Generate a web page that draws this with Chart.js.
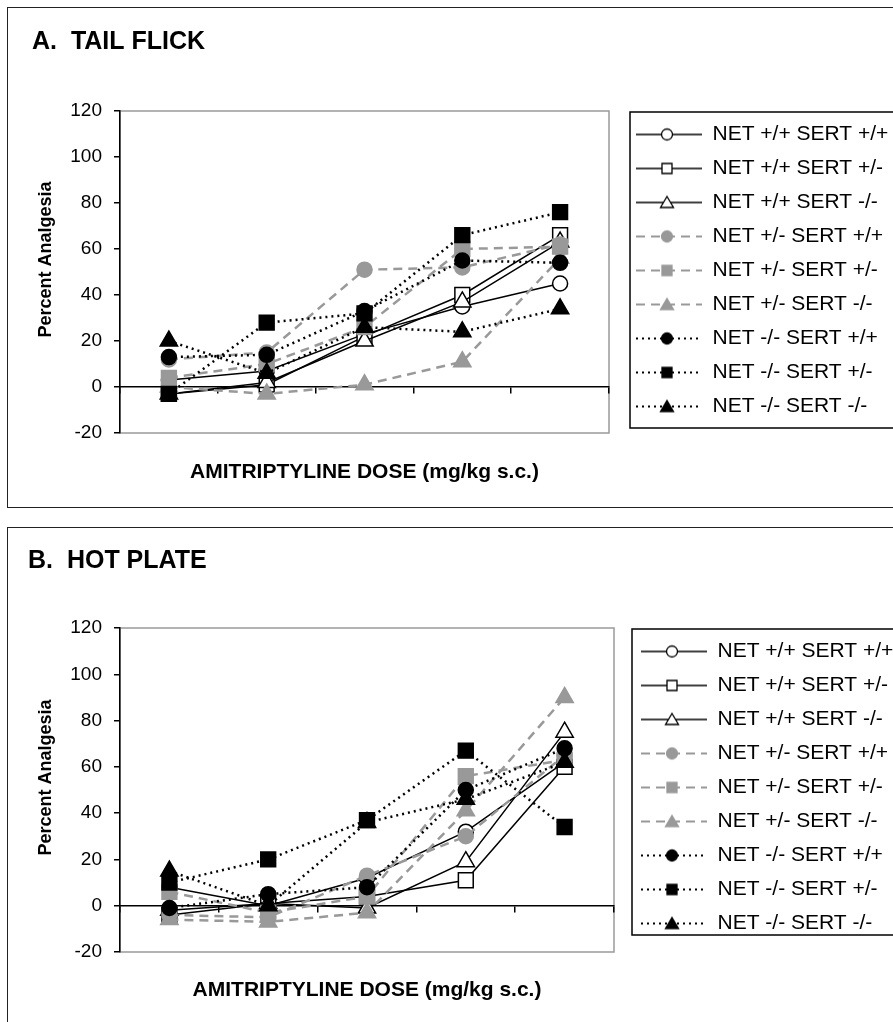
<!DOCTYPE html>
<html>
<head>
<meta charset="utf-8">
<script src="https://cdn.jsdelivr.net/npm/chart.js@4.4.0/dist/chart.umd.min.js"></script>
<style>
  html, body { margin: 0; padding: 0; background: #fff; overflow: hidden; width: 893px; height: 1022px; }
  .frame { position: absolute; left: 7px; width: 1000px; border: 1.5px solid #222; box-sizing: border-box; }
  canvas { position: absolute; left: 10px; }
</style>
</head>
<body>
<div class="frame" style="top:7px;height:501px"></div>
<div class="frame" style="top:527px;height:600px"></div>
<canvas id="tailFlick" width="960" height="495" style="top:10px"></canvas>
<canvas id="hotPlate" width="960" height="492" style="top:530px"></canvas>
<script>
// doses on the x axis and the y ticks
const doses = ['0', '5', '10', '20', '40'];
const yTicks = [-20, 0, 20, 40, 60, 80, 100, 120];

const genotypes = [
    'NET +/+ SERT +/+', 'NET +/+ SERT +/-', 'NET +/+ SERT -/-',
    'NET +/- SERT +/+', 'NET +/- SERT +/-', 'NET +/- SERT -/-',
    'NET -/- SERT +/+', 'NET -/- SERT +/-', 'NET -/- SERT -/-'
];

// A. tail flick, percent analgesia per dose
const tfWtWt = [3, 7, 23, 35, 45];
const tfWtHet = [-3, 1, 22, 40, 66];
const tfWtKo = [-3, 2, 20, 37, 63];
const tfHetWt = [12, 15, 51, 52, 62];
const tfHetHet = [4, 10, 26, 60, 61];
const tfHetKo = [0, -3, 1, 11, 56];
const tfKoWt = [13, 14, 33, 55, 54];
const tfKoHet = [-3, 28, 32, 66, 76];
const tfKoKo = [20, 6, 26, 24, 34];

// B. hot plate
const hpWtWt = [8, 0, 12, 32, 62];
const hpWtHet = [-4, 1, 4, 11, 60];
const hpWtKo = [-2, 1, -1, 19, 75];
const hpHetWt = [-4, -5, 13, 30, 65];
const hpHetHet = [6, -3, 4, 56, 63];
const hpHetKo = [-6, -7, -3, 41, 90];
const hpKoWt = [-1, 5, 8, 50, 68];
const hpKoHet = [10, 20, 37, 67, 34];
const hpKoKo = [15, 0, 36, 46, 62];

var fontFamily = "'Liberation Sans', Arial, sans-serif";
Chart.defaults.font.family = fontFamily;
Chart.defaults.color = '#000';

var markers = ['circle', 'rect', 'triangle'];
var markerRadius = [7.5, 10.5, 10];
var groupStyles = [
    { line: '#000', width: 1.5, dash: [], fill: '#fff', edge: '#000' },
    { line: '#999', width: 2.5, dash: [9, 6], fill: '#999', edge: '#999' },
    { line: '#000', width: 2.5, dash: [2, 4], fill: '#000', edge: '#000' }
];

var legendFontSize = 21;
var legendPad = 13;
var iconWidth = 80;

function drawMarker(ctx, shape, x, y, fill, edge) {
    ctx.beginPath();
    if (shape === 'circle') {
        ctx.arc(x, y, 5.5, 0, Math.PI * 2);
    } else if (shape === 'rect') {
        ctx.rect(x - 5, y - 5, 10, 10);
    } else {
        ctx.moveTo(x, y - 6);
        ctx.lineTo(x + 6.5, y + 5);
        ctx.lineTo(x - 6.5, y + 5);
        ctx.closePath();
    }
    ctx.fillStyle = fill;
    ctx.fill();
    ctx.lineWidth = 1.3;
    ctx.strokeStyle = edge;
    ctx.stroke();
}

// small line + marker pictures for the legend
var legendIcons = genotypes.map(function (g, i) {
    var s = groupStyles[Math.floor(i / 3)];
    var c = document.createElement('canvas');
    c.width = iconWidth;
    c.height = 24;
    var ctx = c.getContext('2d');
    ctx.strokeStyle = s.line;
    ctx.lineWidth = s.width === 1.5 ? 1.5 : 2;
    ctx.setLineDash(s.dash);
    ctx.beginPath();
    ctx.moveTo(14, 12);
    ctx.lineTo(iconWidth, 12);
    ctx.stroke();
    ctx.setLineDash([]);
    drawMarker(ctx, markers[i % 3], 45, 12, s.fill, s.edge);
    return c;
});

// width the legend box will take, same sum as Chart.js uses
var measureCtx = document.createElement('canvas').getContext('2d');
measureCtx.font = legendFontSize + 'px ' + fontFamily;
var maxText = 0;
genotypes.forEach(function (g) {
    maxText = Math.max(maxText, measureCtx.measureText(g).width);
});
var legendWidth = legendPad + iconWidth + legendFontSize / 2 + maxText + 10;

var plotFrame = {
    id: 'plotFrame',
    beforeDraw: function (chart) {
        var a = chart.chartArea, ctx = chart.ctx;
        ctx.save();
        ctx.strokeStyle = '#9a9a9a';
        ctx.lineWidth = 1.5;
        ctx.strokeRect(a.left, a.top, a.right - a.left, a.bottom - a.top);
        ctx.restore();
    }
};

var legendFrame = {
    id: 'legendFrame',
    afterDraw: function (chart, args, opts) {
        var ctx = chart.ctx;
        var x = chart.chartArea.right + opts.gap;
        ctx.save();
        ctx.strokeStyle = '#000';
        ctx.lineWidth = 1.5;
        ctx.strokeRect(x, chart.legend.top + 1, 400, opts.height);
        ctx.restore();
    }
};

function makePanel(id, title, values, p) {
    var datasets = values.map(function (vals, i) {
        var s = groupStyles[Math.floor(i / 3)];
        return {
            label: genotypes[i],
            data: vals,
            order: 8 - i,
            borderColor: s.line,
            borderWidth: s.width,
            borderDash: s.dash,
            pointStyle: markers[i % 3],
            pointRadius: markerRadius[i % 3],
            pointHoverRadius: markerRadius[i % 3],
            pointBackgroundColor: s.fill,
            pointBorderColor: s.edge,
            pointBorderWidth: 1.5,
            tension: 0,
            fill: false
        };
    });

    return new Chart(document.getElementById(id), {
        type: 'line',
        data: { labels: doses, datasets: datasets },
        plugins: [plotFrame, legendFrame],
        options: {
            responsive: false,
            animation: false,
            events: [],
            layout: { padding: { left: p.padLeft, right: 960 - p.chartRight - legendWidth, top: 0, bottom: 0 } },
            plugins: {
                title: {
                    display: true,
                    text: title,
                    align: 'start',
                    color: '#000',
                    font: { size: 25, weight: 'bold' },
                    padding: { top: p.titleTop, bottom: p.titleBottom }
                },
                legend: {
                    position: 'right',
                    align: 'start',
                    fullSize: false,
                    maxWidth: 600,
                    labels: {
                        usePointStyle: true,
                        pointStyleWidth: iconWidth,
                        padding: legendPad,
                        color: '#000',
                        font: { size: legendFontSize },
                        generateLabels: function (chart) {
                            return chart.data.datasets.map(function (ds, i) {
                                return {
                                    text: ds.label,
                                    pointStyle: legendIcons[i],
                                    fillStyle: 'rgba(0,0,0,0)',
                                    strokeStyle: 'rgba(0,0,0,0)',
                                    lineWidth: 0,
                                    fontColor: '#000',
                                    hidden: false,
                                    datasetIndex: i
                                };
                            });
                        }
                    }
                },
                tooltip: { enabled: false },
                legendFrame: { gap: p.legendGap, height: p.legendHeight }
            },
            scales: {
                x: {
                    type: 'category',
                    position: 'bottom',
                    offset: true,
                    grid: { display: false, drawTicks: false },
                    border: { display: false },
                    ticks: { padding: p.tickPad, color: '#000', font: { size: 19 }, maxRotation: 0, autoSkip: false },
                    title: {
                        display: true,
                        text: 'AMITRIPTYLINE DOSE (mg/kg s.c.)',
                        color: '#000',
                        font: { size: 21, weight: 'bold' },
                        padding: { top: 0, bottom: p.xTitlePad }
                    },
                    afterFit: function (scale) { scale.height = p.xHeight; }
                },
                x0: {
                    type: 'category',
                    position: { y: 0 },
                    offset: true,
                    grid: { display: true, offset: true, drawOnChartArea: false, drawTicks: true, tickLength: 6, color: '#000', lineWidth: 1.5 },
                    border: { display: true, color: '#000', width: 1.5 },
                    ticks: { display: false },
                    afterFit: function (scale) { scale.height = 0; }
                },
                y: {
                    type: 'linear',
                    position: 'left',
                    min: yTicks[0],
                    max: yTicks[yTicks.length - 1],
                    ticks: { stepSize: yTicks[1] - yTicks[0], padding: 12, color: '#000', font: { size: 19 } },
                    grid: { drawOnChartArea: false, drawTicks: true, tickLength: 6, color: '#000', lineWidth: 1.5 },
                    border: { display: true, color: '#000', width: 1.5 },
                    title: {
                        display: true,
                        // leading spaces lift the centred title a little, as in the original
                        text: '     Percent Analgesia',
                        color: '#000',
                        font: { size: 18, weight: 'bold' },
                        padding: { top: p.yTitlePad, bottom: 0 }
                    },
                    afterFit: function (scale) { scale.width = p.yWidth; }
                }
            }
        }
    });
}

makePanel('tailFlick', 'A.  TAIL FLICK',
    [tfWtWt, tfWtHet, tfWtKo, tfHetWt, tfHetHet, tfHetKo, tfKoWt, tfKoHet, tfKoKo],
    { padLeft: 22, yWidth: 88, yTitlePad: 3.6, chartRight: 599, titleTop: 17, titleBottom: 54,
      xHeight: 72, xTitlePad: 20.4, tickPad: -26.4, legendGap: 21, legendHeight: 316 });

makePanel('hotPlate', 'B.  HOT PLATE',
    [hpWtWt, hpWtHet, hpWtKo, hpHetWt, hpHetHet, hpHetKo, hpKoWt, hpKoHet, hpKoKo],
    { padLeft: 18, yWidth: 92, yTitlePad: 7.6, chartRight: 604, titleTop: 16, titleBottom: 52,
      xHeight: 70, xTitlePad: 19.4, tickPad: -25.4, legendGap: 18, legendHeight: 306 });
</script>
</body>
</html>
